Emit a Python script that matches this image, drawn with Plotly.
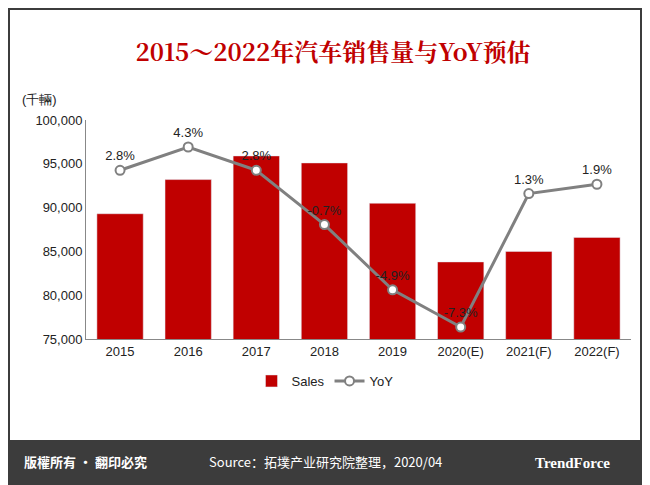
import plotly.graph_objects as go

years = ["2015", "2016", "2017", "2018", "2019", "2020(E)", "2021(F)", "2022(F)"]
sales = [89300, 93200, 95900, 95100, 90500, 83800, 85000, 86600]
yoy = [2.8, 4.3, 2.8, -0.7, -4.9, -7.3, 1.3, 1.9]
yoy_labels = ["2.8%", "4.3%", "2.8%", "-0.7%", "-4.9%", "-7.3%", "1.3%", "1.9%"]

W, H = 650, 485
OFF = 8  # page body margin, the figure is drawn shifted by this much
L, R, T, B = 86 - OFF, W - 631 + OFF, 120 - OFF, H - 339 + OFF
PW, PH = W - L - R, H - T - B


# reference pixel position -> paper coordinates (paper = plot area)
def px(x):
    return (x - OFF - L) / PW


def py(y):
    return (H - B - (y - OFF)) / PH


fig = go.Figure()
fig.add_trace(go.Bar(x=years, y=sales, name="Sales", marker_color="#C00000", width=0.68))
fig.add_trace(go.Scatter(
    x=years, y=yoy, name="YoY", yaxis="y2", mode="lines+markers+text",
    line=dict(color="#808080", width=3),
    marker=dict(size=9, color="white", line=dict(color="#808080", width=2)),
    text=yoy_labels, textposition="top center",
    textfont=dict(size=13, color="#222222", family="Arial"),
))

shapes = [
    dict(type="rect", xref="paper", yref="paper", x0=px(10), x1=px(640), y0=py(440), y1=py(10),
         fillcolor="white", line=dict(width=0), layer="below"),
]

annotations = [
    dict(text="(千輛)", x=px(20), y=py(90), xref="paper", yref="paper", xanchor="left",
         showarrow=False, font=dict(size=13, color="#222222", family="Arial")),
    dict(text="<b>版權所有 · 翻印必究</b>", x=px(22), y=py(473), xref="paper", yref="paper", xanchor="left",
         showarrow=False, font=dict(size=13, color="white", family="Noto Sans CJK TC")),
    dict(text="Source：拓墣产业研究院整理，2020/04", x=px(325), y=py(473), xref="paper", yref="paper",
         showarrow=False, font=dict(size=13, color="white", family="Noto Sans CJK SC")),
    dict(text="<b>TrendForce</b>", x=px(612), y=py(473), xref="paper", yref="paper",
         showarrow=False, font=dict(size=15, color="white", family="Liberation Serif")),
]

fig.update_layout(
    width=W, height=H,
    paper_bgcolor="#3c3c3c", plot_bgcolor="white",
    margin=dict(l=L, r=R, t=T, b=B, autoexpand=False),
    title=dict(text="<b>2015～2022年汽车销售量与YoY预估</b>", x=0.5, xanchor="center",
               y=1 - 45 / H, yanchor="middle", yref="container",
               font=dict(size=24, color="#C00000", family="Noto Serif CJK SC, serif")),
    shapes=shapes, annotations=annotations,
    xaxis=dict(showline=True, linecolor="#888888", tickfont=dict(size=13, color="#222222", family="Arial"),
               ticks="", showgrid=False),
    yaxis=dict(range=[75000, 100000], dtick=5000, tickformat=",", showgrid=False,
               showline=True, linecolor="#888888",
               tickfont=dict(size=13, color="#222222", family="Arial")),
    yaxis2=dict(range=[-8.07, 6.04], overlaying="y", side="right", visible=False),
    legend=dict(orientation="h", x=px(325), xanchor="center", y=py(381), yanchor="middle",
                font=dict(size=13, color="#222222", family="Arial"), bgcolor="rgba(0,0,0,0)"),
    showlegend=True,
)

fig.write_html("out.html")
